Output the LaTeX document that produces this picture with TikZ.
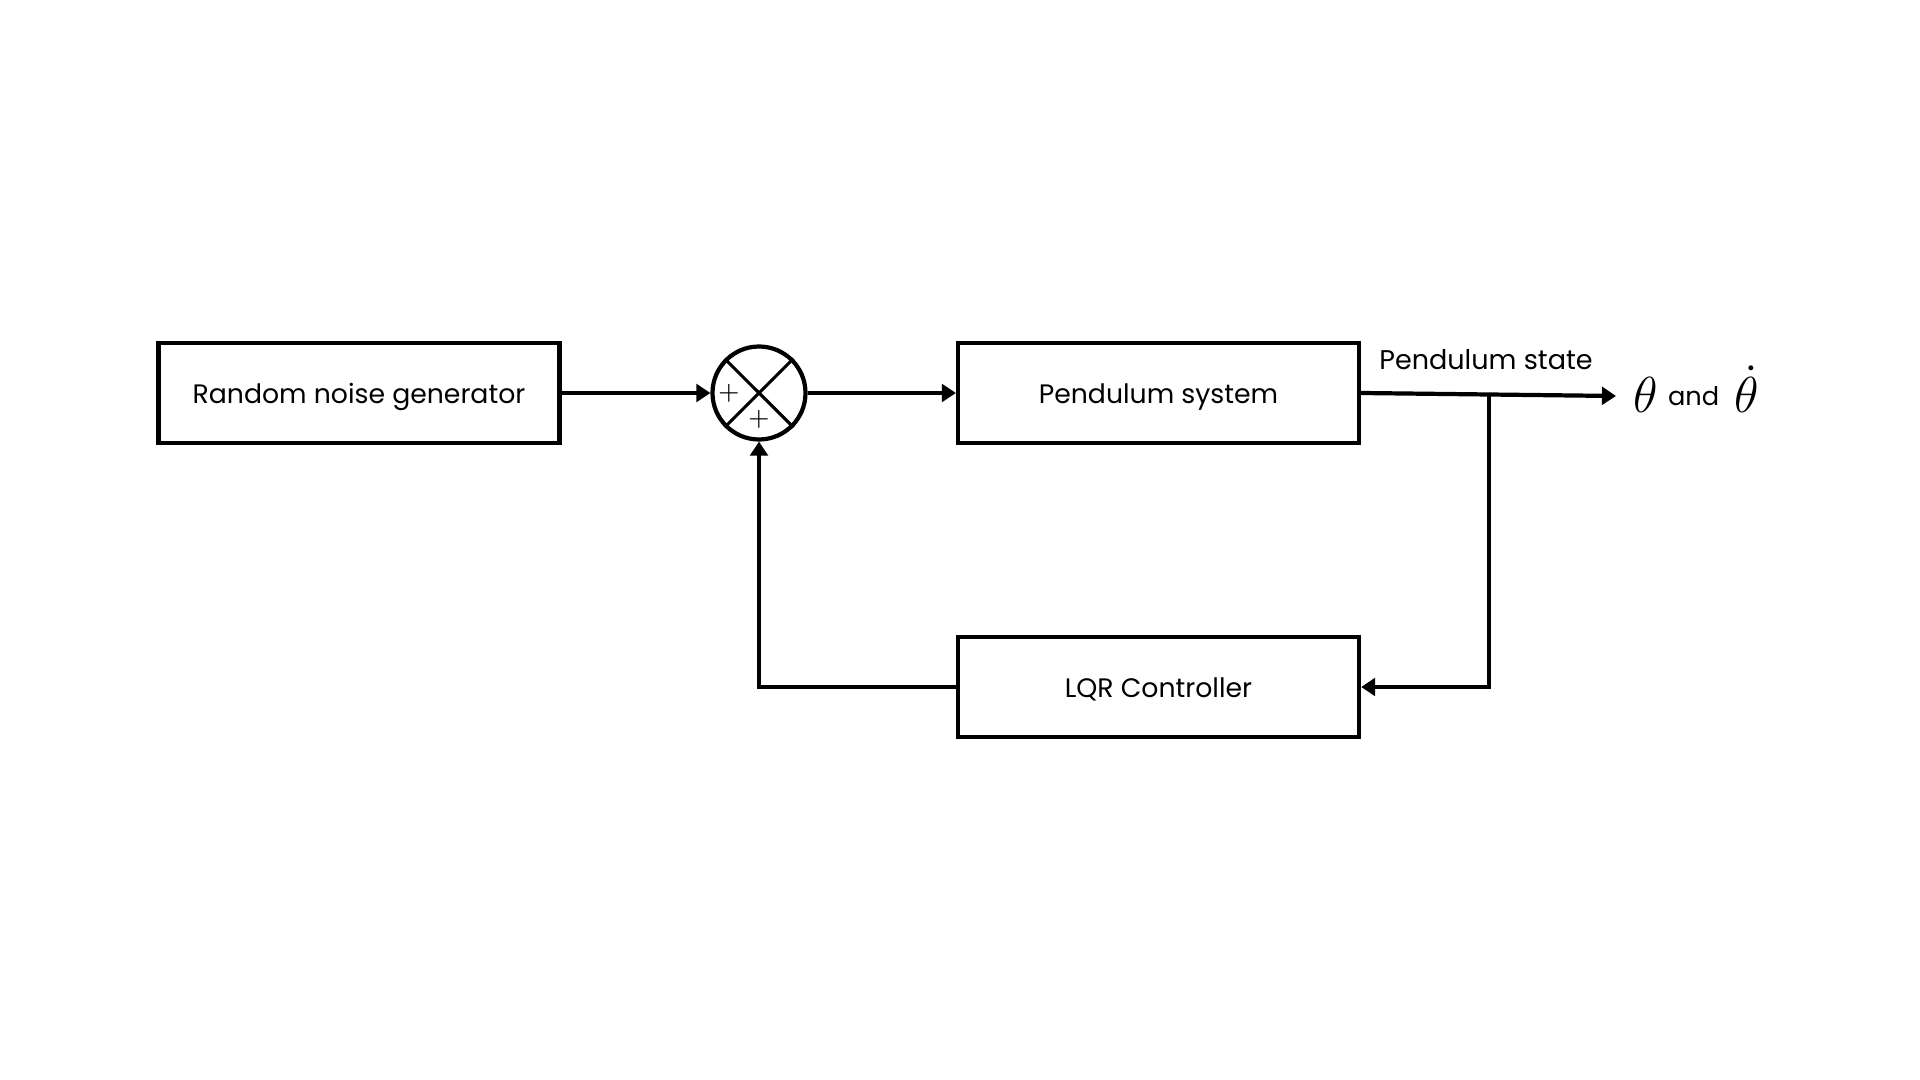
\documentclass[tikz,border=0pt]{standalone}
\usepackage{fontspec}
\setmainfont{Poppins}
\usepackage{amsmath}
\usetikzlibrary{arrows.meta,calc}
\tikzset{
  blk/.style={
    draw,
    line width=1.2pt,
    minimum width=4.01cm,
    minimum height=1cm,
    text height=0.86em,
    text depth=0.25em,
    font=\fontsize{7.6}{10}\selectfont},
  sumjn/.style={
    draw,
    circle,
    line width=1.2pt,
    minimum size=0.93cm,
    inner sep=0pt},
  sig/.style={
    -{Triangle[length=4pt,width=5pt]},
    line width=1.2pt}
  }
\begin{document}
\begin{tikzpicture}
      \useasboundingbox (0,0) rectangle (19.2,-10.8);
      \node[blk] (noise) at (3.59,-3.93) {Random noise generator};
      \node[sumjn] (sum) at (7.59,-3.93) {};
      \node[blk] (pend) at (11.585,-3.93) {Pendulum system};
      \node[blk] (lqr) at (11.585,-6.87) {LQR Controller};
      \coordinate (split) at (14.89,-3.945);
      \coordinate (ret) at (7.59,-6.87);
      \node[anchor=base west,inner sep=0pt] (out) at (16.33,-4.13)
        {\fontsize{14.8}{16}\selectfont$\theta$\hspace{2.8pt}\raisebox{2.2pt}{\fontsize{7.3}{9}\selectfont and}\hspace{4.4pt}$\dot{\theta}$};
      \node[inner sep=0pt,font=\fontsize{7.7}{10}\selectfont] (lbl) at (14.86,-3.60) {Pendulum state};
      % cross and signs of the summing junction
      \draw[line width=0.9pt] (sum.north west) -- (sum.south east)
        (sum.north east) -- (sum.south west);
      \node[font=\fontsize{7}{8}\selectfont,inner sep=0pt] (pa) at (7.29,-3.93) {$+$};
      \node[font=\fontsize{7}{8}\selectfont,inner sep=0pt] (pb) at (7.59,-4.19) {$+$};
      \path[sig]
      (noise) edge (sum)
      (sum) edge (pend);
      \draw[sig] (pend.east) -- (split) -- (16.16,-3.96);
      \draw[sig] (split) |- (lqr.east);
      \draw[sig] (lqr.west) -- (ret) -- (sum.south);
    \end{tikzpicture}
\end{document}
